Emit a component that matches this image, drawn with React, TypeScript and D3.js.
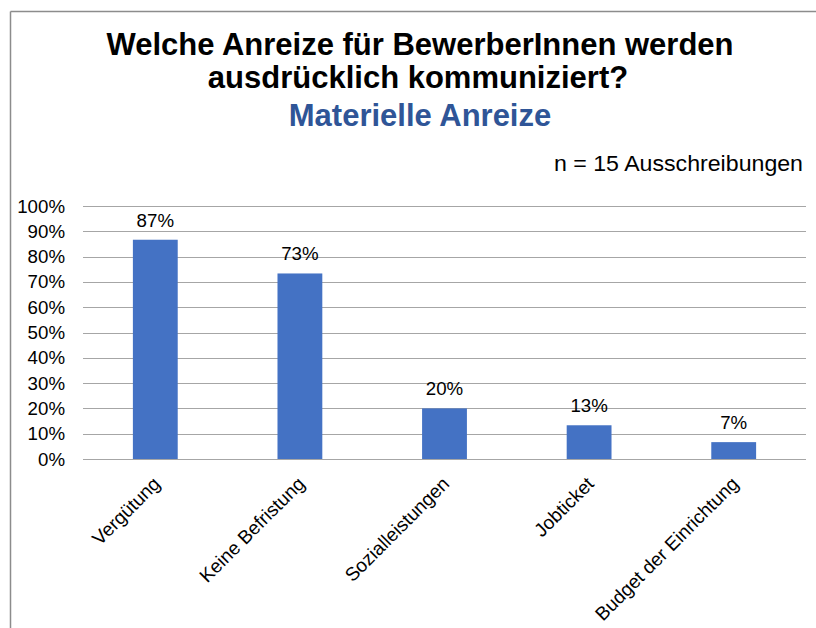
import React from "react";
import * as d3 from "d3";

const categories = ["Vergütung", "Keine Befristung", "Sozialleistungen", "Jobticket", "Budget der Einrichtung"];
const values = [13 / 15, 11 / 15, 3 / 15, 2 / 15, 1 / 15];
const valueLabels = ["87%", "73%", "20%", "13%", "7%"];
const yTicks = [0, 0.1, 0.2, 0.3, 0.4, 0.5, 0.6, 0.7, 0.8, 0.9, 1.0];
const titleLines = ["Welche Anreize für BewerberInnen werden", "ausdrücklich kommuniziert?"];
const subtitle = "Materielle Anreize";
const note = "n = 15 Ausschreibungen";

const W = 816;
const H = 628;
const plotLeft = 83;
const plotRight = 806;
const plotTop = 206;
const plotBottom = 459;
const font = "'Liberation Sans', Arial, sans-serif";

export default function App() {
  const x = d3.scaleBand<string>().domain(categories).range([plotLeft, plotRight]).paddingInner(0.69).paddingOuter(0.345);
  const y = d3.scaleLinear().domain([0, 1]).range([plotBottom, plotTop]);
  const fmt = d3.format(".0%");

  return (
    <svg width={W} height={H} style={{ position: "absolute", left: 0, top: 0, background: "#fff" }} fontFamily={font}>
      <rect x={0} y={0} width={W} height={H} fill="#fff" />
      {/* frame */}
      <line x1={10.5} y1={11.5} x2={W} y2={11.5} stroke="#8c8c8c" strokeWidth={1.5} />
      <line x1={10.5} y1={11.5} x2={10.5} y2={H} stroke="#8c8c8c" strokeWidth={1.5} />

      {/* titles */}
      <text x={420} y={55} textAnchor="middle" fontSize={31} fontWeight="bold" fill="#000">{titleLines[0]}</text>
      <text x={418} y={88} textAnchor="middle" fontSize={31} fontWeight="bold" fill="#000">{titleLines[1]}</text>
      <text x={420} y={126} textAnchor="middle" fontSize={31} fontWeight="bold" fill="#2F5597">{subtitle}</text>
      <text x={803} y={171} textAnchor="end" fontSize={22} fill="#000" textLength={249} lengthAdjust="spacingAndGlyphs">{note}</text>

      {/* gridlines */}
      {yTicks.map((t) => (
        <line key={"g" + t} x1={plotLeft} x2={plotRight} y1={Math.round(y(t)) + 0.5} y2={Math.round(y(t)) + 0.5} stroke="#a6a6a6" strokeWidth={1} />
      ))}
      {/* y tick labels */}
      {yTicks.map((t) => (
        <text key={"t" + t} x={65} y={y(t) + 6.5} textAnchor="end" fontSize={18.7} fill="#000">{fmt(t)}</text>
      ))}

      {/* bars */}
      {categories.map((c, i) => (
        <rect key={c} x={x(c)} y={y(values[i])} width={x.bandwidth()} height={plotBottom - y(values[i])} fill="#4472C4" />
      ))}
      {/* value labels */}
      {categories.map((c, i) => (
        <text key={"v" + c} x={(x(c) as number) + x.bandwidth() / 2} y={y(values[i]) - 13} textAnchor="middle" fontSize={18.7} fill="#000">{valueLabels[i]}</text>
      ))}
      {/* category labels */}
      {categories.map((c) => {
        const cx = (x(c) as number) + x.bandwidth() / 2;
        return (
          <text key={"c" + c} transform={`translate(${cx + 6},${485}) rotate(-45)`} textAnchor="end" fontSize={19} fill="#000">{c}</text>
        );
      })}
    </svg>
  );
}
